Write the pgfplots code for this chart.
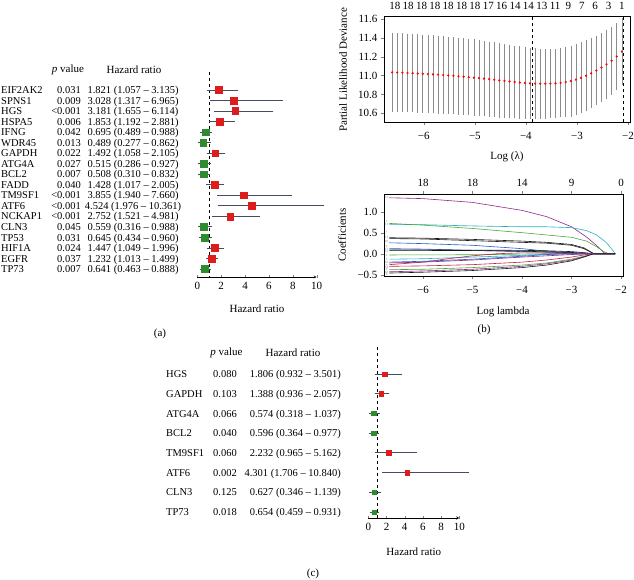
\documentclass[border=0pt]{standalone}
\usepackage{pgfplots}
\pgfplotsset{compat=1.18}
\usepackage{fontspec}
\setmainfont{Liberation Serif}
\definecolor{fred}{RGB}{222,28,28}
\definecolor{fgreen}{RGB}{46,139,46}
\definecolor{ebar}{RGB}{70,76,98}
\definecolor{cvgray}{RGB}{140,140,140}
\definecolor{cblack}{RGB}{25,25,25}
\definecolor{cred}{RGB}{200,30,70}
\definecolor{cgreen}{RGB}{70,170,60}
\definecolor{cblue}{RGB}{40,90,200}
\definecolor{ccyan}{RGB}{40,175,195}
\definecolor{cpurple}{RGB}{140,40,140}
\tikzset{txt/.style={font=\fontsize{10.5}{12}\selectfont, inner sep=0pt},
  hdr/.style={font=\fontsize{11}{12}\selectfont, inner sep=0pt},
  tiny/.style={font=\fontsize{3.2}{3.5}\selectfont, inner sep=0pt, text=gray}}
\pgfplotsset{
  common/.style={scale only axis, anchor=south west, tick align=outside, major tick length=3pt,
    tick label style={font=\fontsize{11}{12}\selectfont},
    /pgf/number format/assume math mode=true, axis line style={-}},
  forest/.style={common, xmin=0, xmax=10, y dir=reverse, axis x line=bottom, axis y line=none,
    xtick={0,2,4,6,8,10}, ytick=\empty, clip=false},
}
\begin{document}
\begin{tikzpicture}[x=1pt,y=1pt]
\useasboundingbox (0,0) rectangle (634,580);

% ---------------- Panel (a) text ----------------
\node[hdr] at (68,510) {\textit{p} value};
\node[hdr] at (134,510) {Hazard ratio};
\foreach \n/\p/\h [count=\i from 0] in {
 EIF2AK2/0.031/{1.821 (1.057 -- 3.135)},
 SPNS1/0.009/{3.028 (1.317 -- 6.965)},
 HGS/<0.001/{3.181 (1.655 -- 6.114)},
 HSPA5/0.006/{1.853 (1.192 -- 2.881)},
 IFNG/0.042/{0.695 (0.489 -- 0.988)},
 WDR45/0.013/{0.489 (0.277 -- 0.862)},
 GAPDH/0.022/{1.492 (1.058 -- 2.105)},
 ATG4A/0.027/{0.515 (0.286 -- 0.927)},
 BCL2/0.007/{0.508 (0.310 -- 0.832)},
 FADD/0.040/{1.428 (1.017 -- 2.005)},
 TM9SF1/<0.001/{3.855 (1.940 -- 7.660)},
 ATF6/<0.001/{4.524 (1.976 -- 10.361)},
 NCKAP1/<0.001/{2.752 (1.521 -- 4.981)},
 CLN3/0.045/{0.559 (0.316 -- 0.988)},
 TP53/0.031/{0.645 (0.434 -- 0.960)},
 HIF1A/0.024/{1.447 (1.049 -- 1.996)},
 EGFR/0.037/{1.232 (1.013 -- 1.499)},
 TP73/0.007/{0.641 (0.463 -- 0.888)}} {
  \node[txt, anchor=base west] at (1, 486.4-\i*10.53) {\n};
  \node[txt, anchor=base east] at (81, 486.4-\i*10.53) {\p};
  \node[txt, anchor=base] at (133, 486.4-\i*10.53) {\h};
}
\node[hdr] at (257,271) {Hazard ratio};
\node[hdr] at (160,246) {(a)};

\begin{axis}[forest, at={(197.3pt,303pt)}, width=119.4pt, height=205pt, ymin=-0.709, ymax=18.76]
\addplot[dashed, black, thin] coordinates {(1,-0.709) (1,18.76)};
\addplot[only marks, mark=square*, mark size=3.4pt, color=fred,
  error bars/.cd, x dir=both, x explicit,
  error bar style={color=ebar, line width=0.8pt},
  error mark options={color=ebar, mark size=3pt, line width=0.8pt}]
 coordinates {
 (1.821,1) += (1.314,0) -= (0.764,0)
 (3.028,2) += (3.937,0) -= (1.711,0)
 (3.181,3) += (2.933,0) -= (1.526,0)
 (1.853,4) += (1.028,0) -= (0.661,0)
 (1.492,7) += (0.613,0) -= (0.434,0)
 (1.428,10) += (0.577,0) -= (0.411,0)
 (3.855,11) += (3.805,0) -= (1.915,0)
 (4.524,12) += (5.837,0) -= (2.548,0)
 (2.752,13) += (2.229,0) -= (1.231,0)
 (1.447,16) += (0.549,0) -= (0.398,0)
 (1.232,17) += (0.267,0) -= (0.219,0)
 };
\addplot[only marks, mark=square*, mark size=3.4pt, color=fgreen,
  error bars/.cd, x dir=both, x explicit,
  error bar style={color=ebar, line width=0.8pt},
  error mark options={color=ebar, mark size=3pt, line width=0.8pt}]
 coordinates {
 (0.695,5) += (0.293,0) -= (0.206,0)
 (0.489,6) += (0.373,0) -= (0.212,0)
 (0.515,8) += (0.412,0) -= (0.229,0)
 (0.508,9) += (0.324,0) -= (0.198,0)
 (0.559,14) += (0.429,0) -= (0.243,0)
 (0.645,15) += (0.315,0) -= (0.211,0)
 (0.641,18) += (0.247,0) -= (0.178,0)
 };
\end{axis}

% ---------------- Panel (c) text ----------------
\node[hdr] at (226.5,227) {\textit{p} value};
\node[hdr] at (293,227) {Hazard ratio};
\foreach \n/\p/\h [count=\i from 0] in {
 HGS/0.080/{1.806 (0.932 -- 3.501)},
 GAPDH/0.103/{1.388 (0.936 -- 2.057)},
 ATG4A/0.066/{0.574 (0.318 -- 1.037)},
 BCL2/0.040/{0.596 (0.364 -- 0.977)},
 TM9SF1/0.060/{2.232 (0.965 -- 5.162)},
 ATF6/0.002/{4.301 (1.706 -- 10.840)},
 CLN3/0.125/{0.627 (0.346 -- 1.139)},
 TP73/0.018/{0.654 (0.459 -- 0.931)}} {
  \node[txt, anchor=base west] at (166, 202.4-\i*19.714) {\n};
  \node[txt, anchor=base east] at (237, 202.4-\i*19.714) {\p};
  \node[txt, anchor=base east] at (341, 202.4-\i*19.714) {\h};
}
\node[hdr] at (413.8,28) {Hazard ratio};
\node[hdr] at (313,6) {(c)};

\begin{axis}[forest, at={(368.3pt,62pt)}, width=91pt, height=171pt, ymin=-0.37, ymax=8.306]
\addplot[dashed, black, thin] coordinates {(1,-0.37) (1,8.306)};
\addplot[only marks, mark=square*, mark size=2.2pt, color=fred,
  error bars/.cd, x dir=both, x explicit,
  error bar style={color=ebar, line width=0.7pt},
  error mark options={color=ebar, mark size=2.2pt, line width=0.7pt}]
 coordinates {
 (1.806,1) += (1.695,0) -= (0.874,0)
 (1.388,2) += (0.669,0) -= (0.452,0)
 (2.232,5) += (2.930,0) -= (1.267,0)
 (4.301,6) += (6.539,0) -= (2.595,0)
 };
\addplot[only marks, mark=square*, mark size=2.2pt, color=fgreen,
  error bars/.cd, x dir=both, x explicit,
  error bar style={color=ebar, line width=0.7pt},
  error mark options={color=ebar, mark size=2.2pt, line width=0.7pt}]
 coordinates {
 (0.574,3) += (0.463,0) -= (0.256,0)
 (0.596,4) += (0.381,0) -= (0.232,0)
 (0.627,7) += (0.512,0) -= (0.281,0)
 (0.654,8) += (0.277,0) -= (0.195,0)
 };
\end{axis}

% ---------------- Panel (b) top: CV deviance ----------------
\node[hdr, rotate=90] at (343,510) {Partial Likelihood Deviance};
\node[hdr] at (507,423) {Log (λ)};
\begin{axis}[common, at={(384pt,458pt)}, width=246pt, height=106pt,
  xmin=-6.78, xmax=-1.96, ymin=10.508, ymax=11.632,
  xtick={-6,-5,-4,-3,-2}, xticklabels={−6,−5,−4,−3,−2},
  ytick={10.6,10.8,11.0,11.2,11.4,11.6}, yticklabels={10.6,10.8,11.0,11.2,11.4,11.6},
  xtick pos=bottom, ytick pos=left, xticklabel style={yshift=-4pt}]
\addplot[dashed, black, thin] coordinates {(-3.88,10.508) (-3.88,11.632)};
\addplot[dashed, black, thin] coordinates {(-2.10,10.508) (-2.10,11.632)};
\addplot[only marks, mark=*, mark size=0.9pt, color=red,
  error bars/.cd, y dir=both, y explicit,
  error bar style={color=cvgray, line width=0.6pt},
  error mark options={color=cvgray, mark size=1.6pt, line width=0.6pt}]
 table[x=x, y=y, y error=e] {
 x y e
 -6.62 11.035 0.400
 -6.52 11.033 0.400
 -6.42 11.031 0.400
 -6.32 11.028 0.399
 -6.22 11.025 0.399
 -6.12 11.022 0.398
 -6.02 11.019 0.398
 -5.92 11.016 0.397
 -5.82 11.013 0.397
 -5.72 11.010 0.396
 -5.62 11.006 0.395
 -5.52 11.002 0.394
 -5.42 10.998 0.393
 -5.32 10.993 0.392
 -5.22 10.988 0.391
 -5.12 10.983 0.389
 -5.02 10.978 0.388
 -4.92 10.973 0.386
 -4.82 10.968 0.384
 -4.72 10.962 0.382
 -4.62 10.956 0.380
 -4.52 10.950 0.378
 -4.42 10.944 0.376
 -4.32 10.938 0.373
 -4.22 10.932 0.370
 -4.12 10.926 0.367
 -4.02 10.921 0.364
 -3.92 10.917 0.362
 -3.82 10.915 0.359
 -3.72 10.914 0.356
 -3.62 10.914 0.353
 -3.52 10.915 0.350
 -3.42 10.918 0.348
 -3.32 10.923 0.350
 -3.22 10.931 0.355
 -3.12 10.942 0.360
 -3.02 10.957 0.362
 -2.92 10.976 0.360
 -2.82 10.998 0.358
 -2.72 11.024 0.355
 -2.62 11.053 0.352
 -2.52 11.085 0.349
 -2.42 11.120 0.346
 -2.32 11.158 0.343
 -2.22 11.202 0.340
 -2.12 11.254 0.335
 };
\end{axis}
\begin{axis}[common, at={(384pt,458pt)}, width=246pt, height=106pt,
  xmin=-6.78, xmax=-1.96, ymin=10.508, ymax=11.632,
  axis x line*=top, axis y line=none, ytick=\empty, major tick length=0pt,
  xtick={-6.569,-6.307,-6.045,-5.784,-5.522,-5.260,-4.998,-4.736,-4.475,-4.213,-3.951,-3.689,-3.427,-3.166,-2.904,-2.642,-2.380,-2.118},
  xticklabels={18,18,18,18,18,18,18,17,16,14,14,13,11,9,7,6,3,1},
  xticklabel style={yshift=2.5pt}]
\addplot[draw=none] coordinates {(-6,11)};
\end{axis}

% ---------------- Panel (b) bottom: coefficient paths ----------------
\node[hdr, rotate=90] at (342,345) {Coefficients};
\node[hdr] at (503,268) {Log lambda};
\node[hdr] at (484,250) {(b)};
\begin{axis}[common, at={(384pt,304pt)}, width=239pt, height=82pt,
  xmin=-6.79, xmax=-1.96, ymin=-0.53, ymax=1.42,
  xtick={-6,-5,-4,-3,-2}, xticklabels={−6,−5,−4,−3,−2},
  ytick={-0.5,0,0.5,1}, yticklabels={−0.5,0.0,0.5,1.0},
  xtick pos=bottom, ytick pos=left, xticklabel style={yshift=-4pt},
  every axis plot/.append style={line width=0.6pt, no marks}]
\addplot[cpurple] coordinates {(-6.68,1.33)(-6,1.31)(-5,1.22)(-4,1.03)(-3.5,0.88)(-3,0.64)(-2.7,0.40)(-2.5,0.20)(-2.32,0)(-2.12,0)};
\addplot[ccyan] coordinates {(-6.68,0.70)(-6,0.69)(-5,0.66)(-4,0.64)(-3.5,0.64)(-3,0.62)(-2.7,0.55)(-2.5,0.45)(-2.3,0.27)(-2.18,0.10)(-2.12,0)};
\addplot[cgreen] coordinates {(-6.68,0.72)(-6,0.68)(-5,0.60)(-4,0.50)(-3,0.39)(-2.7,0.30)(-2.5,0.17)(-2.35,0.05)(-2.25,0)(-2.12,0)};
\addplot[cblack] coordinates {(-6.68,0.38)(-6,0.37)(-5,0.34)(-4,0.30)(-3.5,0.27)(-3,0.22)(-2.75,0.14)(-2.55,0)(-2.12,0)};
\addplot[cblack] coordinates {(-6.68,0.36)(-6,0.35)(-5,0.31)(-4,0.27)(-3.5,0.25)(-3,0.20)(-2.75,0.12)(-2.55,0)(-2.12,0)};
\addplot[cblue] coordinates {(-6.68,0.26)(-6,0.24)(-5,0.20)(-4,0.12)(-3.5,0.06)(-3,0.02)(-2.8,0)(-2.12,0)};
\addplot[cblue] coordinates {(-6.68,0.12)(-6,0.11)(-5,0.08)(-4,0.05)(-3,0.02)(-2.7,0)(-2.12,0)};
\addplot[cblack] coordinates {(-6.68,0.09)(-6,0.09)(-5,0.085)(-4,0.08)(-3.5,0.07)(-3,0.05)(-2.7,0.02)(-2.55,0)(-2.12,0)};
\addplot[cblack] coordinates {(-6.68,0.08)(-5,0.075)(-4,0.06)(-3,0.03)(-2.6,0)(-2.12,0)};
\addplot[cgreen] coordinates {(-6.68,-0.03)(-5,-0.025)(-4,-0.01)(-3.5,0)(-2.12,0)};
\addplot[ccyan] coordinates {(-6.68,-0.13)(-6,-0.12)(-5,-0.08)(-4,-0.04)(-3.5,-0.01)(-3.2,0)(-2.12,0)};
\addplot[cred] coordinates {(-6.68,-0.26)(-6,-0.20)(-5.5,-0.12)(-5,-0.05)(-4.5,0.0)(-4,0.02)(-3.5,0.02)(-3,0)(-2.12,0)};
\addplot[cblue] coordinates {(-6.68,-0.20)(-6,-0.18)(-5,-0.13)(-4,-0.06)(-3.5,-0.02)(-3,0)(-2.12,0)};
\addplot[cpurple] coordinates {(-6.68,-0.22)(-6,-0.20)(-5,-0.15)(-4,-0.08)(-3,-0.02)(-2.7,0)(-2.12,0)};
\addplot[cred] coordinates {(-6.68,-0.30)(-6,-0.29)(-5,-0.26)(-4,-0.20)(-3.5,-0.15)(-3,-0.08)(-2.75,-0.03)(-2.55,0)(-2.12,0)};
\addplot[cgreen] coordinates {(-6.68,-0.38)(-6,-0.37)(-5,-0.33)(-4,-0.27)(-3.5,-0.22)(-3,-0.13)(-2.75,-0.06)(-2.55,0)(-2.12,0)};
\addplot[cpurple] coordinates {(-6.68,-0.43)(-6,-0.41)(-5,-0.37)(-4,-0.30)(-3.5,-0.24)(-3,-0.15)(-2.75,-0.07)(-2.55,0)(-2.12,0)};
\addplot[cblack] coordinates {(-6.68,-0.46)(-6,-0.44)(-5,-0.40)(-4,-0.33)(-3.5,-0.27)(-3,-0.17)(-2.75,-0.08)(-2.55,0)(-2.12,0)};
\node[tiny] at (axis cs:-6.735,1.33) {12};
\node[tiny] at (axis cs:-6.735,0.76) {3};
\node[tiny] at (axis cs:-6.735,0.69) {11};
\node[tiny] at (axis cs:-6.735,0.50) {7};
\node[tiny] at (axis cs:-6.735,0.39) {13};
\node[tiny] at (axis cs:-6.735,0.28) {10};
\node[tiny] at (axis cs:-6.735,0.18) {4};
\node[tiny] at (axis cs:-6.735,0.11) {17};
\node[tiny] at (axis cs:-6.735,0.05) {15};
\node[tiny] at (axis cs:-6.735,-0.04) {2};
\node[tiny] at (axis cs:-6.735,-0.13) {5};
\node[tiny] at (axis cs:-6.735,-0.21) {16};
\node[tiny] at (axis cs:-6.735,-0.27) {9};
\node[tiny] at (axis cs:-6.735,-0.32) {14};
\node[tiny] at (axis cs:-6.735,-0.38) {6};
\node[tiny] at (axis cs:-6.735,-0.44) {18};
\node[tiny] at (axis cs:-6.735,-0.49) {8};
\end{axis}
\begin{axis}[common, at={(384pt,304pt)}, width=239pt, height=82pt,
  xmin=-6.79, xmax=-1.96, ymin=-0.53, ymax=1.42,
  axis x line*=top, axis y line=none, ytick=\empty,
  xtick={-6,-5,-4,-3,-2}, xticklabels={18,18,14,9,0}, xticklabel style={yshift=1pt}]
\addplot[draw=none] coordinates {(-6,0)};
\end{axis}
\end{tikzpicture}
\end{document}
